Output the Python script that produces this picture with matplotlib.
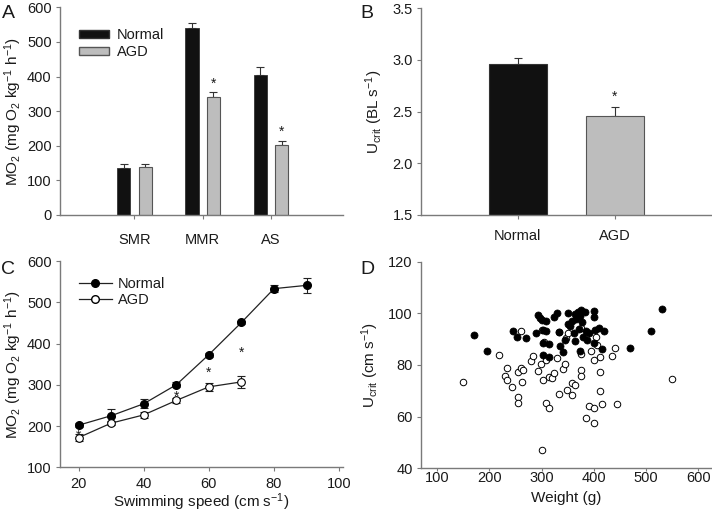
import numpy as np
import matplotlib
matplotlib.use("Agg")
import matplotlib.pyplot as plt
from matplotlib.patches import Patch
from matplotlib.lines import Line2D

plt.rcParams["font.family"] = ["Liberation Sans", "DejaVu Sans"]
plt.rcParams["mathtext.fontset"] = "custom"
plt.rcParams["mathtext.rm"] = "Liberation Sans"
plt.rcParams["mathtext.it"] = "Liberation Sans:italic"
plt.rcParams["mathtext.bf"] = "Liberation Sans:bold"
plt.rcParams["font.size"] = 10

# Panel A: metabolic rates
rate_cats = ["SMR", "MMR", "AS"]
rate_normal = [135, 541, 405]
rate_normal_err = [11, 15, 22]
rate_agd = [140, 342, 202]
rate_agd_err = [6, 12, 13]
rate_sig = [False, True, True]

# Panel B: Ucrit (BL/s)
ucrit_groups = ["Normal", "AGD"]
ucrit_vals = [2.96, 2.46]
ucrit_err = [0.055, 0.085]
ucrit_sig = [False, True]

# Panel C: MO2 vs swimming speed
speed_normal = [20, 30, 40, 50, 60, 70, 80, 90]
mo2_normal = [202, 225, 254, 300, 373, 451, 533, 541]
mo2_normal_err = [5, 16, 11, 6, 5, 4, 8, 19]
speed_agd = [20, 30, 40, 50, 60, 70]
mo2_agd = [172, 207, 227, 262, 295, 307]
mo2_agd_err = [8, 4, 8, 6, 10, 14]
star_speeds = [20, 50, 60, 70]
star_levels = [176, 272, 328, 377]

# Panel D: Ucrit (cm/s) vs weight
w_normal = [170, 195, 245, 253, 269, 289, 293, 297, 300, 303, 302, 303, 314,
            309, 309, 314, 324, 329, 334, 335, 340, 345, 350, 351, 354, 359,
            361, 363, 365, 363, 370, 373, 371, 375, 377, 373, 380, 383, 386,
            385, 391, 400, 400, 402, 400, 410, 415, 420, 469, 509, 530]
u_normal = [91.6, 85.6, 93, 91, 90.3, 92.3, 99.4, 98.2, 97.4, 93.5, 88.6, 84,
            83, 97.2, 93, 88, 98.7, 100, 92.6, 87.5, 85, 89.7, 100, 96, 95,
            97.2, 92.5, 99.6, 98, 89.3, 100.6, 99, 94, 101.4, 96.8, 85.6, 91,
            100.6, 89.7, 93, 92.3, 101, 98.7, 93.5, 88.4, 94.2, 86.2, 93.2,
            86.7, 93, 101.7]
w_agd = [149, 219, 233, 230, 234, 244, 260, 254, 254, 255, 260, 264, 263, 279,
         284, 293, 300, 299, 303, 305, 309, 309, 314, 314, 319, 324, 329, 333,
         334, 341, 345, 346, 349, 351, 359, 359, 363, 376, 376, 376, 376, 390,
         394, 400, 400, 404, 406, 411, 411, 411, 415, 385, 400, 434, 440, 445,
         300, 549]
u_agd = [73.3, 83.9, 79, 75.9, 74.2, 71.6, 93.2, 67.5, 65.2, 77.2, 79, 78,
         73.6, 81.6, 83.6, 77.8, 93.5, 80.3, 74, 89, 82, 65.2, 63.5, 75.5,
         74.8, 76.8, 82.6, 92.6, 68.7, 78.5, 80.3, 90.6, 70.2, 92.2, 73.2,
         68.4, 72.3, 94.2, 84.3, 78, 75.9, 64.2, 85.6, 63.2, 82, 91, 87.8,
         83.2, 70, 77.2, 65, 59.6, 57.4, 83.6, 86.7, 65, 47.1, 74.6]

spine_col = "#7a7a7a"
text_col = "#1a1a1a"
plt.rcParams["text.color"] = text_col
plt.rcParams["axes.labelcolor"] = text_col
plt.rcParams["xtick.color"] = spine_col
plt.rcParams["ytick.color"] = spine_col
plt.rcParams["xtick.labelcolor"] = text_col
plt.rcParams["ytick.labelcolor"] = text_col

TICK_FS = 10.5
LAB_FS = 11

fig = plt.figure(figsize=(7.12, 5.13), dpi=100)

def style(ax, xpad=4, xlen=3):
	for s in ["top", "right"]:
		ax.spines[s].set_visible(False)
	for s in ["left", "bottom"]:
		ax.spines[s].set_color(spine_col)
		ax.spines[s].set_linewidth(1.0)
	ax.tick_params(axis="y", direction="out", length=3, width=0.8, pad=3, labelsize=TICK_FS)
	ax.tick_params(axis="x", direction="out", length=xlen, width=0.8, pad=xpad, labelsize=TICK_FS)

# ---- A
axA = fig.add_axes([0.0843, 0.5809, 0.3975, 0.4049])
x = np.arange(len(rate_cats))
bw = 0.195
axA.bar(x - 0.155, rate_normal, bw, color="#111111", edgecolor="#333333", linewidth=0.6, zorder=2)
axA.bar(x + 0.16, rate_agd, bw, color="#bdbdbd", edgecolor="#555555", linewidth=0.8, zorder=2)
axA.errorbar(x - 0.155, rate_normal, yerr=[np.zeros(3), rate_normal_err], fmt="none",
			ecolor="#333333", elinewidth=0.8, capsize=3, capthick=0.8, zorder=1)
axA.errorbar(x + 0.16, rate_agd, yerr=[np.zeros(3), rate_agd_err], fmt="none",
			ecolor="#333333", elinewidth=0.8, capsize=3, capthick=0.8, zorder=1)
for i in range(len(rate_cats)):
	if rate_sig[i]:
		axA.text(x[i] + 0.16, rate_agd[i] + rate_agd_err[i] + 4, "*", ha="center", va="bottom", fontsize=10)
axA.set_xlim(-1.09, 3.06)
axA.set_ylim(0, 600)
axA.set_xticks(x)
axA.set_xticklabels(rate_cats)
axA.set_yticks(range(0, 601, 100))
style(axA, xpad=10)
axA.set_ylabel("MO$_2$ (mg O$_2$ kg$^{-1}$ h$^{-1}$)", labelpad=2, fontsize=LAB_FS)
axA.legend(handles=[Patch(facecolor="#111111", edgecolor="#333333", label="Normal"),
					Patch(facecolor="#bdbdbd", edgecolor="#555555", label="AGD")],
		   loc="upper left", bbox_to_anchor=(0.03, 0.95), frameon=False, fontsize=10.5,
		   handlelength=2.1, handleheight=0.45, handletextpad=0.5, labelspacing=0.2, borderpad=0.2)

# ---- B
axB = fig.add_axes([0.5913, 0.5809, 0.4083, 0.4029])
xb = np.arange(len(ucrit_groups))
colsB = ["#111111", "#bdbdbd"]
edgB = ["#333333", "#555555"]
axB.bar(xb, ucrit_vals, 0.6, color=colsB, edgecolor=edgB, linewidth=0.8, zorder=2)
axB.errorbar(xb, ucrit_vals, yerr=[np.zeros(2), ucrit_err], fmt="none",
			 ecolor="#333333", elinewidth=0.8, capsize=3, capthick=0.8, zorder=1)
for i in range(len(ucrit_groups)):
	if ucrit_sig[i]:
		axB.text(xb[i], ucrit_vals[i] + ucrit_err[i] + 0.03, "*", ha="center", va="bottom", fontsize=10)
axB.set_xlim(-1.0, 2.0)
axB.set_ylim(1.5, 3.5)
axB.set_xticks(xb)
axB.set_xticklabels(ucrit_groups)
axB.set_yticks([1.5, 2.0, 2.5, 3.0, 3.5])
axB.set_yticklabels(["1.5", "2.0", "2.5", "3.0", "3.5"])
style(axB, xpad=7)
axB.set_ylabel("U$_{\\mathrm{crit}}$ (BL s$^{-1}$)", labelpad=5, fontsize=LAB_FS)

# ---- C
axC = fig.add_axes([0.0843, 0.0891, 0.3975, 0.4021])
axC.errorbar(speed_normal, mo2_normal, yerr=mo2_normal_err, color="#222222", lw=0.9,
			 marker="o", ms=5.5, mfc="black", mec="black", ecolor="#222222",
			 elinewidth=0.8, capsize=3, capthick=0.8, label="Normal", zorder=3)
axC.errorbar(speed_agd, mo2_agd, yerr=mo2_agd_err, color="#222222", lw=0.9,
			 marker="o", ms=5.5, mfc="white", mec="black", mew=0.8, ecolor="#222222",
			 elinewidth=0.8, capsize=3, capthick=0.8, label="AGD", zorder=3)
for s, lv in zip(star_speeds, star_levels):
	axC.text(s, lv, "*", ha="center", va="center", fontsize=10, zorder=4)
axC.set_xlim(14.3, 101.2)
axC.set_ylim(100, 600)
axC.set_xticks(range(20, 101, 20))
axC.set_yticks(range(100, 601, 100))
style(axC, xpad=4)
axC.set_xlabel("Swimming speed (cm s$^{-1}$)", labelpad=0, fontsize=LAB_FS)
axC.set_ylabel("MO$_2$ (mg O$_2$ kg$^{-1}$ h$^{-1}$)", labelpad=2, fontsize=LAB_FS)
axC.legend(handles=[Line2D([], [], color="#222222", lw=0.9, marker="o", ms=5.5, mfc="black", mec="black", label="Normal"),
					Line2D([], [], color="#222222", lw=0.9, marker="o", ms=5.5, mfc="white", mec="black", label="AGD")],
		   loc="upper left", bbox_to_anchor=(0.03, 0.97), frameon=False, fontsize=10.5,
		   handlelength=2.3, handletextpad=0.4, labelspacing=0.1, borderpad=0.2)

# ---- D
axD = fig.add_axes([0.5913, 0.0871, 0.4083, 0.4028])
axD.scatter(w_agd, u_agd, s=22, facecolors="white", edgecolors="black", linewidths=0.7, zorder=2)
axD.scatter(w_normal, u_normal, s=26, facecolors="black", edgecolors="black", linewidths=0.5, zorder=3)
axD.set_xlim(68.8, 625.7)
axD.set_ylim(40, 120)
axD.set_xticks(range(100, 601, 100))
axD.set_yticks(range(40, 121, 20))
style(axD, xpad=0, xlen=2)
axD.set_xlabel("Weight (g)", labelpad=4, fontsize=LAB_FS)
axD.set_ylabel("U$_{\\mathrm{crit}}$ (cm s$^{-1}$)", labelpad=5, fontsize=LAB_FS)

# panel letters
for lab, px, py in [("A", 8, 14), ("B", 367, 14), ("C", 8, 269), ("D", 367, 269)]:
	fig.text(px / 712, 1 - py / 513, lab, fontsize=14, ha="center", va="center")

fig.savefig("out.png", dpi=100)
